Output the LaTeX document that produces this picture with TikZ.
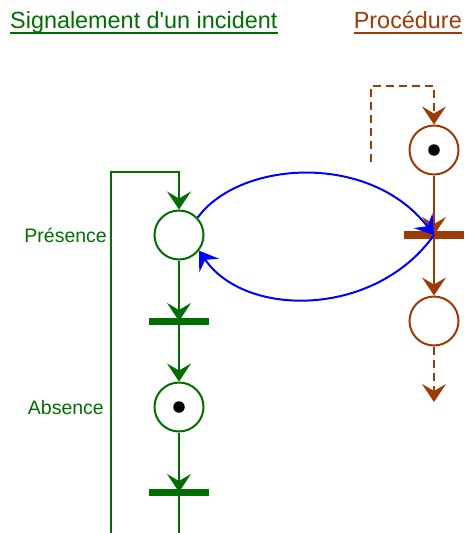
\documentclass[tikz,border=0pt]{standalone}
\usepackage{fontspec}
\setmainfont{Liberation Sans}[Ligatures=TeXOff]
\usetikzlibrary{arrows.meta}
\definecolor{pgreen}{RGB}{0,110,0}
\definecolor{pbrown}{RGB}{158,58,8}
\definecolor{pblue}{RGB}{0,0,255}
\begin{document}
\begin{tikzpicture}[x=1pt,y=-1pt,
  arrowtip/.style={-{Stealth[length=18pt,width=24pt,inset=7pt]}},
  place/.style={circle,fill=white,line width=2pt,minimum size=49pt,inner sep=0pt},
  tokendot/.style={circle,fill=black,minimum size=11.5pt,inner sep=0pt},
  transbar/.style={rectangle,minimum width=60pt,minimum height=7pt,inner sep=0pt},
  gline/.style={pgreen,line width=2pt},
  bline/.style={pbrown,line width=2pt},
  dashline/.style={pbrown,line width=2pt,dash pattern=on 8pt off 5pt},
  arcline/.style={pblue,line width=2pt},
  lbl/.style={font=\fontsize{19.5}{23}\selectfont,text=pgreen,inner sep=0pt},
  ttl/.style={font=\fontsize{23.4}{28}\selectfont,inner sep=0pt}]
\useasboundingbox (0,0) rectangle (464,533);
% titles
\node[ttl,text=pgreen,anchor=base west] (t1title) at (10,28) {Signalement d'un incident};
\draw[pgreen,line width=1.5pt] ([yshift=-5pt]t1title.base west) -- ([yshift=-5pt]t1title.base east);
\node[ttl,text=pbrown,anchor=base east] (t2title) at (462,28) {Procédure};
\draw[pbrown,line width=1.5pt] ([yshift=-5pt]t2title.base west) -- ([yshift=-5pt]t2title.base east);
% green net
\node[place,draw=pgreen] (pres) at (179,235) {};
\node[place,draw=pgreen] (abs) at (179,407) {};
\node[tokendot] (abstok) at (abs.center) {};
\node[transbar,fill=pgreen] (ta) at (179,321) {};
\node[transbar,fill=pgreen] (tb) at (179,492) {};
\coordinate (gbot) at (179,533);
\coordinate (gbotl) at (111,533);
\coordinate (gtopl) at (111,172);
\coordinate (gtopr) at (179,172);
\node[lbl,anchor=base east] (lpres) at (107,242) {Présence};
\node[lbl,anchor=base east] (labs) at (104,414) {Absence};
\draw[gline,arrowtip] (pres) -- (ta.center);
\draw[gline,arrowtip] (ta) -- (abs);
\draw[gline,arrowtip] (abs) -- (tb.center);
\draw[gline] (tb.center) -- (gbot);
\draw[gline,arrowtip] (gbotl) -- (gtopl) -- (gtopr) -- (pres.north);
% brown net
\node[place,draw=pbrown] (p1) at (434,150) {};
\node[tokendot] (p1tok) at (p1.center) {};
\node[transbar,fill=pbrown,minimum height=8pt] (tc) at (434,235) {};
\node[place,draw=pbrown] (p2) at (434,321) {};
\coordinate (ds) at (371,162);
\coordinate (dc1) at (371,86);
\coordinate (dc2) at (434,86);
\coordinate (dend) at (434,402);
\draw[dashline,arrowtip] (ds) -- (dc1) -- (dc2) -- (p1.north);
\draw[bline,arrowtip] (p1) -- (tc.center);
\draw[bline,arrowtip] (tc.center) -- (p2);
\draw[dashline,arrowtip] (p2) -- (dend);
% blue arcs
\draw[arcline,arrowtip] (pres.43) .. controls (240,160) and (370,152) .. (tc.center);
\draw[arcline,arrowtip] (tc.center) .. controls (375,318) and (245,318) .. (pres.-38);
\end{tikzpicture}
\end{document}
